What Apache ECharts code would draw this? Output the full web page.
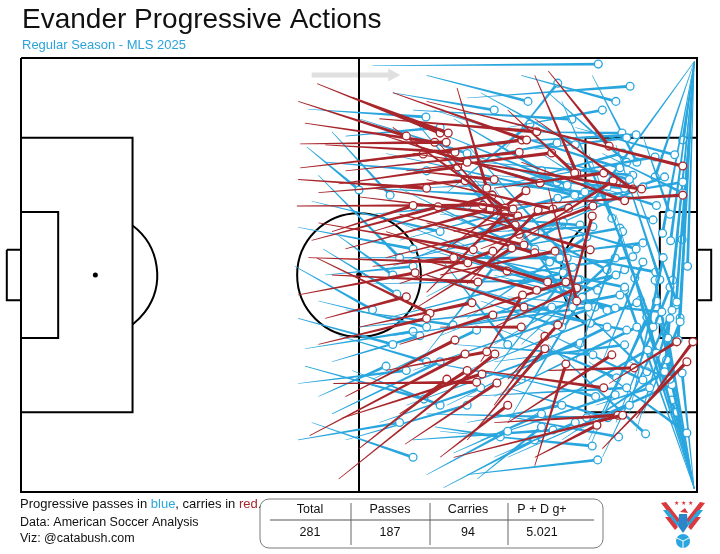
<!DOCTYPE html>
<html>
<head>
<meta charset="utf-8">
<title>Evander Progressive Actions</title>
<script src="https://cdn.jsdelivr.net/npm/echarts@6/dist/echarts.min.js"></script>
<style>
  html, body { margin: 0; padding: 0; background: #fff; }
  #chart { width: 720px; height: 554px; }
</style>
</head>
<body>
<div id="chart"></div>
<script>
// pitch coords: x 0-100 (attacking right), y 0-100 (top to bottom)
// each action: [xStart, yStart, xEnd, yEnd]
var passes = [
  // corners from the top right
  [99.6,0.8,97.9,18.9],[99.6,0.8,94.9,40.4],[99.6,0.8,96.1,42.1],[99.6,0.8,97.8,41.8],
  [99.6,0.8,96.4,51.2],[99.6,0.8,96.9,56.9],[99.6,0.8,97.5,59.9],[99.6,0.8,97.2,65.0],
  [99.6,0.8,95.3,70.7],[99.6,0.8,84.2,33.9],[99.6,0.8,98.6,48.0],[99.6,0.8,93.8,27.4],
  // corners from the bottom right
  [99.6,99.3,97.8,72.6],[99.6,99.3,96.3,78.8],[99.6,99.3,97.0,81.6],[99.6,99.3,94.5,60.4],
  [99.6,99.3,93.0,66.1],[99.6,99.3,91.6,55.8],[99.6,99.3,89.3,53.5],[99.6,99.3,93.8,51.2],
  [99.6,99.3,95.7,64.5],[99.6,99.3,92.6,59.7],[99.6,99.3,95.5,69.6],
  // top
  [52,1.8,85.4,1.4],[66,9.2,90.1,6.5],[71.6,21,79.4,5.8],[42.5,11.8,59.9,13.6],
  [84.5,4,91.1,24.0],[73,17,88.9,17.3],[69,19.5,91.0,17.7],[76,21,89.6,18.4],
  [63,31,75.3,15.2],[58,12,81.5,14.1],[64,24,79.3,19.6],[70,30,89.0,21.9],
  [78,8,89.6,24.0],[75,28,93.8,22.8],[82,16,96.7,22.3],[81,33,97.9,28.6],
  [86,22,97.9,31.1],[80,36,95.2,27.4],[68,24,90.5,27.0],[61,12,88.6,25.3],
  [72,40,88.1,28.6],[70,27,89.3,30.0],[77,40,92.0,29.7],[65,38,86.7,29.7],
  [62,22,80.8,30.4],[58,30,79.3,28.6],[56,42,79.4,32.3],[48,18,62,16],
  // centre / box
  [52,30,69.7,31.6],[55,48,71.6,38.0],[60,55,80.0,38.5],[66,60,83.7,41.2],
  [80,10,87.4,36.9],[68,45,88.6,39.2],[78,30,93.5,37.3],[74,46,92.0,42.6],
  [64,52,90.5,45.8],[70,66,89.3,48.8],[84,22,90.8,50.7],[62,44,89.3,52.8],
  [86,70,92.0,47.0],[76,44,93.9,49.3],[88,20,94.5,51.1],[88,84,96.0,52.8],
  [90,26,97.0,56.2],[86,92,96.3,58.1],[72,55,94.8,58.5],[84,90,92.6,59.7],
  [66,72,91.1,56.4],[60,63,88.6,54.6],[70,50,87.9,57.6],[64,42,86.7,58.1],
  [58,72,84.9,57.4],[56,38,81.9,53.5],[62,64,82.7,51.1],[54,60,80.2,49.5],
  [60,34,81.2,48.2],[50,46,79.7,46.1],[74,66,87.9,46.1],[68,34,86.7,48.8],
  [66,46,85.3,53.5],[92,82,97.5,60.8],[86,30,93.5,62.0],[70,78,91.1,62.0],
  [74,58,89.6,62.7],[63,80,86.7,62.0],[60,50,84.2,61.1],
  // bottom
  [70,82,88.4,87.3],[78,66,92.4,86.6],[62,86,84.5,89.4],[66,96,85.3,92.6],
  [84,70,98.5,86.4],[80,88,95.2,72.3],[72,92,96.3,75.3],[83,58,92.6,72.3],
  [76,62,92.0,74.2],[66,78,89.6,76.0],[70,62,88.1,73.7],[64,66,84.6,68.4],
  [57,80,82.7,65.7],[70,70,89.3,66.1],[74,84,92.7,67.3],[68,88,87.9,77.6],
  [60,82,83.7,82.9],[72,76,86.8,82.9],[58,88,78.7,85.7],[42,71,59.6,78.6],
  [61.2,85,70.9,87.3],[64,91,77,82],[67.5,97,77,85],[42,67,58,63],[46,70,59,64],
  [44,78,54,71],
  // midfield
  [66,20,80.8,46.1],[70,72,81.6,48.2],[52,52,82.4,51.1],[56,30,78.2,47.0],
  [60,44,79.7,53.0],[72,84,83.0,55.1],[55,64,83.9,57.4],[70,30,81.6,57.4],
  [50,62,78.5,57.4],[48,58,63.9,61.5],[52,74,67.4,62.7],[66,22,79.3,28.6],
  [60,16,80.8,29.3],[64,28,83.4,30.9],[54,22,81.9,31.6],[58,46,80.2,37.8],
  [62,36,82.7,38.5],[70,40,84.6,38.9],[44.7,44,55.6,54.4],[44,56,60,62],
  [44,27,56,46],[47,41,55,50],[46,17,54.6,31.6],[42.3,20.5,50,30.4],
  [43,33,62,40],[41,39,58,44],[46,82,62,70],[48,88,66,80],[40.5,48,52,58],
  [41,75,57,72],[60,96,72,86],
  [41,60,55,66],[43,84,58,92],[62.5,99,76,88],[55,8,70,12],[60,4,75,10],
  [50,14,66,22],[45,24,60,26],[64,14,77,26],[68,8,82,20],[60,68,70,48],
  [66,26,76,44],[52,36,66,34],[58,14,70,36],[62,46,72,66],[60,70,74,74],
  [66,84,80,80],[70,92,82,84],[74,74,85,78],[76,54,88,50],[78,38,91,44],
  [82,70,89,40],[84,88,94,56],[90,82,95,46],[86,30,94,34],[91,86,96,60],
  [85,80,93,76],[82,86,90,80],[72,16,86,12],[74,4,88,10],[45,50,58,48],
  [47,64,60,70],[49,72,62,80],[41,88,56,84],[53,84,68,76],[64,34,76,40],
  [68,56,80,62],[77,22,87,32],[80,24,90,28],[88,36,94,68],[92,18,96,36],
  [90,70,96,74]
];

var carries = [
  [43.8,5.9,62.0,17.3],[49,9,63.2,17.3],[42,15,61.2,19.4],[41.3,19.8,62.9,19.4],
  [41.3,25.3,59.5,22.1],[45,20,64.2,21.7],[47,29,64.6,25.1],[44,31,65.7,28.3],
  [64.5,6.9,68.9,30.0],[53,14,76.3,17.0],[50,24,74.1,18.9],[55,8,74.8,18.9],
  [57,26,78.5,21.9],[52,40,69.7,31.6],[58,20,76.8,28.8],[63,44,74.7,30.6],
  [40.8,34.1,68.3,33.9],[48,44,69.4,34.8],[43,42,61.7,34.3],[55,16,71.6,34.6],
  [52,30,72.8,34.8],[60,54,71.6,35.9],[50,32,73.5,36.4],[54,46,73.1,38.5],
  [62,20,73.7,40.6],[66,52,76.5,35.0],[60,28,78.7,34.8],[64,40,81.0,34.6],
  [68,44,84.6,34.1],[80,62,84.5,36.4],[76,4,82.2,26.5],[56,36,74.4,43.1],
  [60,38,76.0,44.9],[62,50,79.0,44.5],[66,36,84.2,44.2],[44,38,66.9,44.2],
  [56,52,69.8,44.5],[58,58,72.6,43.8],[42.5,46,66.1,47.2],[54,40,71.9,49.1],
  [41,54.6,58.3,49.5],[46,50,67.6,51.6],[62,44,77.9,51.6],[64,60,80.6,51.6],
  [58,46,76.3,53.5],[68,70,74.2,54.6],[70,62,82.2,53.0],[78,30,82.2,56.0],
  [50,62,66.7,56.4],[60,50,74.4,57.4],[43.8,46.1,60.5,58.8],[56,66,69.8,59.2],
  [48,78,64.2,65.0],[54,72,68.9,67.7],[70,80,77.5,64.1],[66,88,77.5,67.0],
  [72,74,79.4,61.5],[42.7,87,65.7,68.2],[47,97,70.1,68.2],[47.5,83,68.2,72.8],
  [46.2,75,67.4,74.7],[56.8,89,70.4,74.9],[76,94,80.6,70.5],[72,84,87.4,68.4],
  [78,72,90.7,71.4],[68,72,86.2,76.0],[70,84,88.3,82.3],[64,92,89.0,82.3],
  [76,92,85.2,84.6],[87,75,97.0,65.4],[91,83,99.4,65.4],[86,90,98.5,70.0],
  [78,3,87.0,20.3],[60,10,97.9,24.9],[72,34,97.9,31.6],[72,12,81.9,26.5],
  [70,30,86.2,26.5],[74,42,87.6,28.3],[76,14,90.5,30.2],[58,22,91.8,30.2],
  [74,24,89.3,32.9],[48,26,73.7,21.7],[41,28,60,30],[44,66,60,60],
  [45,60,57,55],[50,90,63,74],[52,48,64,46],[46,40,58,34],[56,82,66,72],
  [62,92,72,80],[54,18,66,24],[41,10,57,18],[62,62,74,62],[58,26,70,28]
];

var tableHeaders = ['Total', 'Passes', 'Carries', 'P + D g+'];
var tableValues = ['281', '187', '94', '5.021'];

var BLUE = '#29a6de';
var RED = '#a8262b';
var FONT = '"Liberation Sans", Arial, Helvetica, sans-serif';

function comet(color, w0, w1, r) {
  return function (params, api) {
    var a = api.coord([api.value(0), api.value(1)]);
    var b = api.coord([api.value(2), api.value(3)]);
    var dx = b[0] - a[0], dy = b[1] - a[1];
    var len = Math.sqrt(dx * dx + dy * dy) || 1;
    var nx = -dy / len, ny = dx / len;
    return {
      type: 'group',
      children: [{
        type: 'polygon',
        shape: { points: [
          [a[0] + nx * w0, a[1] + ny * w0], [b[0] + nx * w1, b[1] + ny * w1],
          [b[0] - nx * w1, b[1] - ny * w1], [a[0] - nx * w0, a[1] - ny * w0]
        ] },
        style: { fill: color }
      }, {
        type: 'circle',
        shape: { cx: b[0], cy: b[1], r: r },
        style: { fill: '#fff', stroke: color, lineWidth: 1.3 }
      }]
    };
  };
}

function drawPitch(params, api) {
  var P = function (x, y) { return api.coord([x, y]); };
  var ink = { stroke: '#000', lineWidth: 2, fill: null };
  var path = function (pts) {
    return { type: 'polyline', shape: { points: pts.map(function (p) { return P(p[0], p[1]); }) }, style: ink };
  };
  var box = function (x1, y1, x2, y2) {
    return path([[x1, y1], [x2, y1], [x2, y2], [x1, y2], [x1, y1]]);
  };
  var r = api.size([9.15, 0])[0];
  var arcA = Math.acos(5.5 / 9.15);
  var c = P(50, 50), ls = P(11, 50), rs = P(89, 50);
  var tail = P(43, 3.9), tip = P(56.1, 3.9);
  return {
    type: 'group',
    children: [
      // direction arrow
      { type: 'line', shape: { x1: tail[0], y1: tail[1], x2: tip[0] - 11, y2: tip[1] }, style: { stroke: '#e0e0e0', lineWidth: 5 } },
      { type: 'polygon', shape: { points: [[tip[0], tip[1]], [tip[0] - 12, tip[1] - 6.5], [tip[0] - 12, tip[1] + 6.5]] }, style: { fill: '#e0e0e0' } },
      box(0, 0, 100, 100),
      path([[50, 0], [50, 100]]),
      { type: 'circle', shape: { cx: c[0], cy: c[1], r: r }, style: ink },
      { type: 'circle', shape: { cx: c[0], cy: c[1], r: 2.8 }, style: { fill: '#000' } },
      // left end
      box(0, 18.4, 16.5, 81.6),
      box(0, 35.5, 5.5, 64.5),
      box(-2.1, 44.2, 0, 55.8),
      { type: 'circle', shape: { cx: ls[0], cy: ls[1], r: 2.5 }, style: { fill: '#000' } },
      { type: 'arc', shape: { cx: ls[0], cy: ls[1], r: r, startAngle: -arcA, endAngle: arcA }, style: ink },
      // right end
      box(83.5, 18.4, 100, 81.6),
      box(94.5, 35.5, 100, 64.5),
      box(100, 44.2, 102.1, 55.8),
      { type: 'arc', shape: { cx: rs[0], cy: rs[1], r: r, startAngle: Math.PI - arcA, endAngle: Math.PI + arcA }, style: ink }
    ]
  };
}

function actionSeries(name, data, color, w0, w1, z) {
  return {
    name: name,
    type: 'custom',
    coordinateSystem: 'cartesian2d',
    renderItem: comet(color, w0, w1, 3.9),
    encode: { x: [0, 2], y: [1, 3] },
    data: data,
    z: z,
    silent: true
  };
}

var colX = [310, 390, 468, 542];
var graphics = [
  {
    type: 'text', left: 20, top: 498,
    style: {
      text: 'Progressive passes in {b|blue}, carries in {r|red}.',
      font: '13px ' + FONT, fill: '#111',
      rich: { b: { fill: BLUE, color: BLUE, fontSize: 13, fontFamily: FONT }, r: { fill: RED, color: RED, fontSize: 13, fontFamily: FONT } }
    }
  },
  { type: 'text', left: 20, top: 516, style: { text: 'Data: American Soccer Analysis', font: '12.5px ' + FONT, fill: '#111' } },
  { type: 'text', left: 20, top: 532, style: { text: 'Viz: @catabush.com', font: '12.5px ' + FONT, fill: '#111' } },
  { type: 'rect', shape: { x: 260, y: 499, width: 343, height: 49, r: 9 }, style: { fill: '#fff', stroke: '#7a7a7a', lineWidth: 1 } },
  { type: 'line', shape: { x1: 270, y1: 520, x2: 594, y2: 520 }, style: { stroke: '#555', lineWidth: 1 } }
];
[351, 430, 508].forEach(function (x) {
  graphics.push({ type: 'line', shape: { x1: x, y1: 503, x2: x, y2: 545 }, style: { stroke: '#666', lineWidth: 1 } });
});
tableHeaders.forEach(function (t, i) {
  graphics.push({ type: 'text', x: colX[i], y: 510, style: { text: t, font: '12.5px ' + FONT, fill: '#111', textAlign: 'center', textVerticalAlign: 'middle' } });
  graphics.push({ type: 'text', x: colX[i], y: 533, style: { text: tableValues[i], font: '12.5px ' + FONT, fill: '#111', textAlign: 'center', textVerticalAlign: 'middle' } });
});

// little eagle badge
var badge = [
  [[661, 503], [666, 502], [680, 520], [677, 524]],
  [[663, 510], [668, 510], [679, 524], [676, 527]],
  [[665, 517], [670, 517], [678, 527], [675, 530]]
];
badge.forEach(function (pts, i) {
  var col = i === 1 ? BLUE : '#d83a3f';
  graphics.push({ type: 'polygon', shape: { points: pts }, style: { fill: col } });
  graphics.push({ type: 'polygon', shape: { points: pts.map(function (p) { return [1366 - p[0], p[1]]; }) }, style: { fill: col } });
});
graphics.push({ type: 'polygon', shape: { points: [[679, 514], [687, 514], [688, 526], [683, 533], [678, 526]] }, style: { fill: '#2a86c8' } });
graphics.push({ type: 'polygon', shape: { points: [[680, 512], [685, 508], [688, 513]] }, style: { fill: '#d83a3f' } });
[676, 683, 690].forEach(function (x) {
  graphics.push({ type: 'text', x: x, y: 503, style: { text: '\u2605', font: '6px ' + FONT, fill: '#d83a3f', textAlign: 'center', textVerticalAlign: 'middle' } });
});
graphics.push({ type: 'circle', shape: { cx: 683, cy: 541, r: 7 }, style: { fill: BLUE } });
graphics.push({ type: 'polyline', shape: { points: [[677, 538], [683, 541], [689, 538]] }, style: { stroke: '#fff', lineWidth: 1, fill: null } });
graphics.push({ type: 'line', shape: { x1: 683, y1: 541, x2: 683, y2: 548 }, style: { stroke: '#fff', lineWidth: 1 } });

var chart = echarts.init(document.getElementById('chart'));
chart.setOption({
  animation: false,
  backgroundColor: '#fff',
  title: {
    text: 'Evander Progressive Actions',
    subtext: 'Regular Season - MLS 2025',
    left: 17, top: 1, itemGap: 5,
    textStyle: { fontSize: 28, fontWeight: 'normal', color: '#111', fontFamily: FONT },
    subtextStyle: { fontSize: 13, color: '#2ba3d8', fontFamily: FONT }
  },
  grid: { left: 21, right: 23, top: 58, bottom: 62 },
  xAxis: { type: 'value', min: 0, max: 100, show: false },
  yAxis: { type: 'value', min: 0, max: 100, inverse: true, show: false },
  series: [
    { type: 'custom', name: 'pitch', renderItem: drawPitch, data: [[50, 50]], z: 1, silent: true },
    actionSeries('Passes', passes, BLUE, 0.3, 1.45, 2),
    actionSeries('Carries', carries, RED, 0.4, 1.7, 3)
  ],
  graphic: graphics
});
</script>
</body>
</html>
